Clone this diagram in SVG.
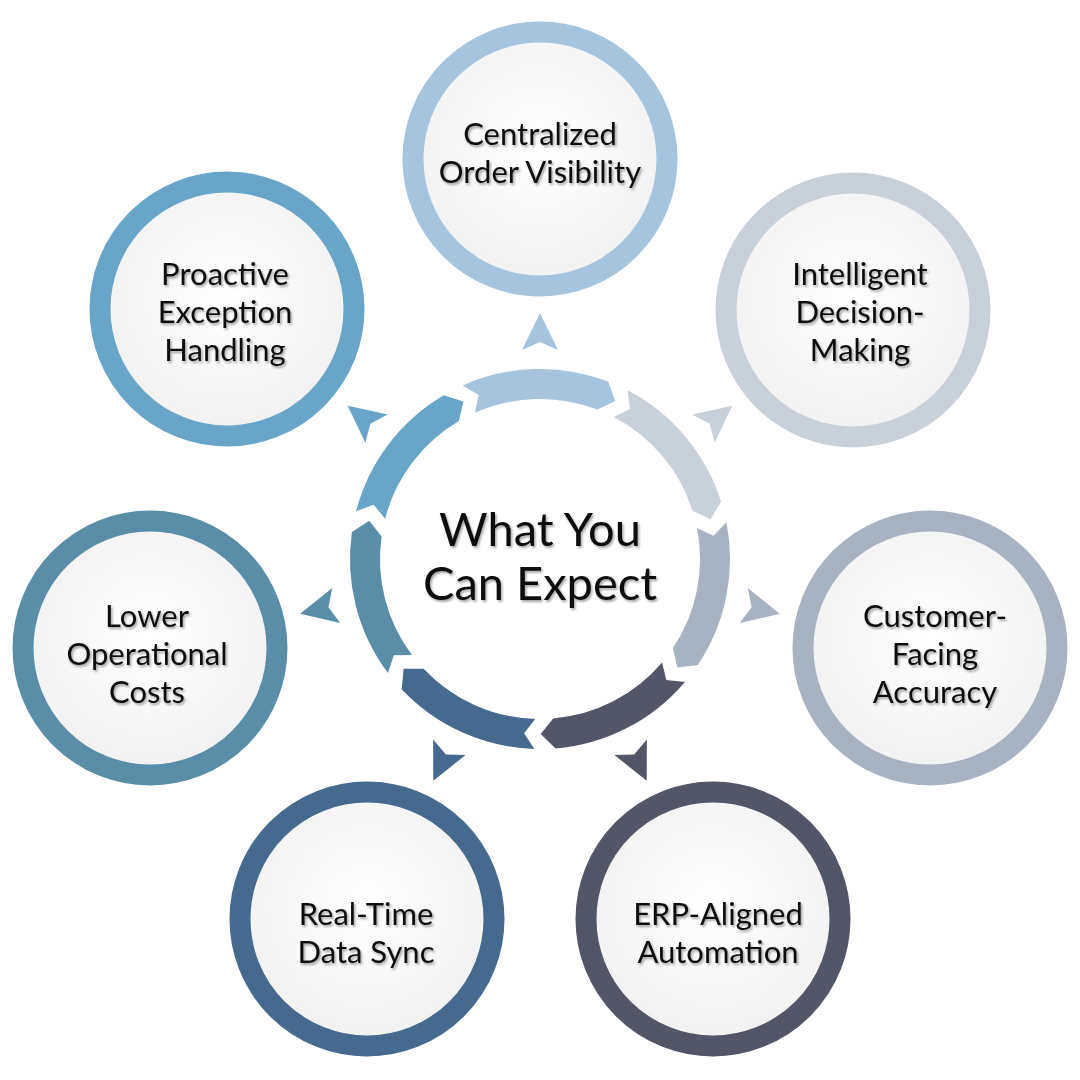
<svg xmlns="http://www.w3.org/2000/svg" xmlns:xlink="http://www.w3.org/1999/xlink" width="1080" height="1080" viewBox="0 0 1080 1080">
<defs>
<style>
.t{font-family:Lato,"Liberation Sans",sans-serif;font-size:31px;fill:#111;text-anchor:middle;filter:url(#sh)}
.title{font-size:47px}
.node circle{stroke-width:21}
</style>
<filter id="sh" x="-10%" y="-20%" width="130%" height="150%"><feDropShadow dx="1.5" dy="2" stdDeviation="0.8" flood-color="#000" flood-opacity="0.35"/></filter>
<radialGradient id="fill" cx="50%" cy="45%" r="60%"><stop offset="0" stop-color="#ffffff"/><stop offset="1" stop-color="#f0f0f0"/></radialGradient>
<path id="seg" d="M462.7,385.4 A190,190 0 0 1 608.1,381.6 L615.3,401.0 L597.3,409.6 A160,160 0 0 0 474.9,412.8 L478.7,395.1 Z"/>
<path id="arr" d="M540,313 L558,350 L540,342 L522,350 Z"/>
</defs>
<rect width="1080" height="1080" fill="#fff"/>
<g id="connectors">
<use xlink:href="#seg" fill="#a6c4de" transform="rotate(0 540 559)"/>
<use xlink:href="#seg" fill="#c8d0d9" transform="rotate(51.43 540 559)"/>
<use xlink:href="#seg" fill="#a8b3c1" transform="rotate(102.86 540 559)"/>
<use xlink:href="#seg" fill="#525667" transform="rotate(154.29 540 559)"/>
<use xlink:href="#seg" fill="#46698f" transform="rotate(205.71 540 559)"/>
<use xlink:href="#seg" fill="#5a8ea8" transform="rotate(257.14 540 559)"/>
<use xlink:href="#seg" fill="#68a5c8" transform="rotate(308.57 540 559)"/>
<use xlink:href="#arr" fill="#a6c4de" transform="rotate(0 540 559)"/>
<use xlink:href="#arr" fill="#c8d0d9" transform="rotate(51.43 540 559)"/>
<use xlink:href="#arr" fill="#a8b3c1" transform="rotate(102.86 540 559)"/>
<use xlink:href="#arr" fill="#525667" transform="rotate(154.29 540 559)"/>
<use xlink:href="#arr" fill="#46698f" transform="rotate(205.71 540 559)"/>
<use xlink:href="#arr" fill="#5a8ea8" transform="rotate(257.14 540 559)"/>
<use xlink:href="#arr" fill="#68a5c8" transform="rotate(308.57 540 559)"/>
</g>
<g id="center"><text class="t title" x="540" y="546">What You</text><text class="t title" x="540" y="600">Can Expect</text></g>
<g id="n1" class="node"><circle cx="540" cy="159" r="127" fill="url(#fill)" stroke="#a6c4de"/><text class="t" x="540" y="145">Centralized</text><text class="t" x="540" y="183">Order Visibility</text></g>
<g id="n2" class="node"><circle cx="853" cy="310" r="127" fill="url(#fill)" stroke="#c8d0d9"/><text class="t" x="860" y="285">Intelligent</text><text class="t" x="860" y="323">Decision-</text><text class="t" x="860" y="361">Making</text></g>
<g id="n3" class="node"><circle cx="930" cy="648" r="127" fill="url(#fill)" stroke="#a8b3c1"/><text class="t" x="935" y="627">Customer-</text><text class="t" x="935" y="665">Facing</text><text class="t" x="935" y="703">Accuracy</text></g>
<g id="n4" class="node"><circle cx="713" cy="919" r="127" fill="url(#fill)" stroke="#525667"/><text class="t" x="718" y="925">ERP-Aligned</text><text class="t" x="718" y="963">Automation</text></g>
<g id="n5" class="node"><circle cx="367" cy="919" r="127" fill="url(#fill)" stroke="#46698f"/><text class="t" x="366" y="925">Real-Time</text><text class="t" x="366" y="963">Data Sync</text></g>
<g id="n6" class="node"><circle cx="150" cy="648" r="127" fill="url(#fill)" stroke="#5a8ea8"/><text class="t" x="147" y="627">Lower</text><text class="t" x="147" y="665">Operational</text><text class="t" x="147" y="703">Costs</text></g>
<g id="n7" class="node"><circle cx="227" cy="309" r="127" fill="url(#fill)" stroke="#68a5c8"/><text class="t" x="225" y="285">Proactive</text><text class="t" x="225" y="323">Exception</text><text class="t" x="225" y="361">Handling</text></g>
</svg>
